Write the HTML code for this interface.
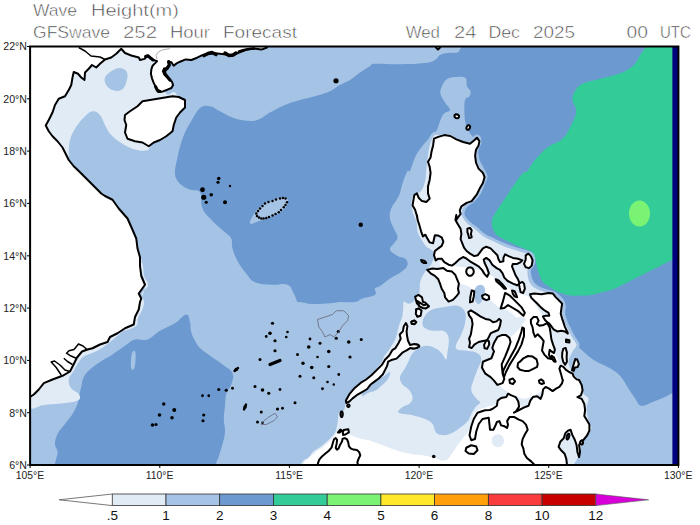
<!DOCTYPE html><html><head><meta charset="utf-8"><style>html,body{margin:0;padding:0;background:#fff}body{width:700px;height:525px;position:relative;overflow:hidden;font-family:"Liberation Sans",sans-serif}text{font-family:"Liberation Sans",sans-serif}</style></head><body><svg width="700" height="525" viewBox="0 0 700 525" style="position:absolute;left:0;top:0">
<defs><clipPath id="c"><rect x="30" y="47" width="648" height="418"/></clipPath></defs>
<g clip-path="url(#c)">
<rect x="30" y="47" width="648" height="418" fill="#a5c3e4"/>
<path d="M461.0,47.0C461.2,43.2 413.2,33.4 461.0,30.0C508.8,26.6 652.2,-42.6 700.0,30.0C747.8,102.6 704.4,320.4 700.0,393.0C695.6,465.6 683.5,392.9 678.0,393.0C672.5,393.1 675.1,392.4 672.5,393.2C669.9,394.1 669.0,395.2 665.0,397.0C661.0,398.8 657.2,400.2 652.5,402.0C647.8,403.8 644.8,406.5 641.2,405.8C637.8,405.0 637.8,402.0 635.0,398.2C632.2,394.5 630.5,391.5 627.5,387.0C624.5,382.5 623.5,379.5 620.0,375.8C616.5,372.0 615.0,371.2 610.0,368.2C605.0,365.2 600.5,364.2 595.0,360.8C589.5,357.2 587.0,355.0 582.5,350.8C578.0,346.5 575.8,344.2 572.5,339.5C569.2,334.8 568.0,332.0 566.2,327.0C564.5,322.0 564.5,319.5 563.8,314.5C563.0,309.5 563.9,305.9 562.5,302.0C561.1,298.1 560.3,297.5 557.0,295.0C553.7,292.5 550.0,291.5 546.0,289.5C542.0,287.5 539.8,287.3 537.0,285.0C534.2,282.7 533.3,281.4 532.0,278.0C530.7,274.6 531.1,272.4 530.5,268.0C529.9,263.6 529.8,259.2 529.0,256.0C528.2,252.8 529.1,253.1 526.6,251.9C524.1,250.7 520.8,251.1 516.3,250.1C511.8,249.1 508.8,248.2 504.3,246.7C499.8,245.2 498.1,244.3 494.0,242.4C489.9,240.5 487.5,239.7 483.7,237.3C479.9,234.9 478.5,233.1 475.1,230.4C471.7,227.7 469.3,226.0 466.6,223.6C463.9,221.2 460.7,223.1 461.4,218.4C462.1,213.7 466.3,207.7 470.0,200.0C473.7,192.3 478.4,188.0 480.0,180.0C481.6,172.0 478.8,167.0 478.0,160.0C477.2,153.0 476.2,149.4 476.0,145.0C475.8,140.6 477.4,139.5 477.0,138.0C476.6,136.5 475.4,138.8 473.8,137.5C472.1,136.2 470.4,134.2 468.8,131.2C467.1,128.2 466.4,126.2 465.5,122.5C464.6,118.8 464.6,117.0 464.5,112.5C464.4,108.0 464.0,103.2 465.0,100.0C466.0,96.8 468.4,98.0 469.5,96.2C470.6,94.5 471.0,93.2 470.5,91.2C470.0,89.2 468.0,88.9 467.0,86.2C466.0,83.6 467.4,79.8 465.5,78.0C463.6,76.2 461.1,76.8 457.5,77.0C453.9,77.2 450.6,76.9 447.5,78.8C444.4,80.6 443.4,83.2 442.0,86.2C440.6,89.2 439.9,90.5 440.5,93.8C441.1,97.0 443.1,99.2 445.0,102.5C446.9,105.8 450.2,107.8 450.0,110.0C449.8,112.2 445.9,111.2 443.8,113.8C441.6,116.2 441.0,119.0 439.5,122.5C438.0,126.0 438.4,128.0 436.2,131.2C434.1,134.5 431.8,135.5 428.8,138.8C425.8,142.0 424.0,143.8 421.2,147.5C418.5,151.2 417.2,152.8 415.0,157.5C412.8,162.2 411.5,168.3 410.0,171.0C408.5,173.7 409.0,168.5 407.5,171.0C406.0,173.5 404.2,178.5 402.5,183.5C400.8,188.5 401.0,191.0 398.8,196.0C396.5,201.0 393.0,204.0 391.2,208.5C389.5,213.0 389.5,214.5 390.0,218.5C390.5,222.5 392.2,224.8 393.8,228.5C395.2,232.2 397.5,234.2 397.5,237.2C397.5,240.2 395.2,241.0 393.8,243.5C392.2,246.0 389.2,247.2 390.0,249.8C390.8,252.2 394.5,254.2 397.5,256.0C400.5,257.8 403.0,256.8 405.0,258.5C407.0,260.2 408.0,262.2 407.5,264.8C407.0,267.2 406.0,268.2 402.5,271.0C399.0,273.8 394.5,275.5 390.0,278.5C385.5,281.5 383.0,284.0 380.0,286.0C377.0,288.0 376.0,286.8 375.0,288.5C374.0,290.2 377.5,292.8 375.0,294.8C372.5,296.8 366.5,297.1 362.5,298.5C358.5,299.9 359.5,301.3 355.0,302.0C350.5,302.7 345.0,301.8 340.0,302.0C335.0,302.2 335.5,302.9 330.0,303.2C324.5,303.6 318.5,304.2 312.5,304.0C306.5,303.8 303.0,302.4 300.0,302.0C297.0,301.6 298.8,303.7 297.5,302.0C296.2,300.3 295.8,296.9 293.8,293.5C291.8,290.1 291.8,286.5 287.5,284.8C283.2,283.0 279.0,285.2 272.5,284.8C266.0,284.2 260.2,284.5 255.0,282.2C249.8,280.0 249.8,277.8 246.2,273.5C242.8,269.2 240.2,266.0 237.5,261.0C234.8,256.0 233.8,253.0 232.5,248.5C231.2,244.0 232.8,241.8 231.2,238.5C229.8,235.2 228.8,235.8 225.0,232.2C221.2,228.8 217.0,225.8 212.5,221.0C208.0,216.2 205.0,214.2 202.5,208.5C200.0,202.8 202.5,196.0 200.0,192.2C197.5,188.5 193.8,191.2 190.0,189.8C186.2,188.2 184.0,187.0 181.2,184.8C178.5,182.5 177.5,181.2 176.2,178.5C175.0,175.8 174.8,175.2 175.0,171.0C175.2,166.8 176.4,162.7 177.5,157.5C178.6,152.3 179.0,150.0 180.5,145.0C182.0,140.0 182.8,137.2 185.0,132.5C187.2,127.8 188.2,126.2 191.2,121.2C194.2,116.3 196.2,111.0 200.0,108.0C203.8,105.0 206.0,105.6 210.0,106.2C214.0,106.9 215.5,109.0 220.0,111.2C224.5,113.5 227.5,115.7 232.5,117.5C237.5,119.3 240.0,120.0 245.0,120.5C250.0,121.0 252.5,121.6 257.5,120.0C262.5,118.4 264.5,115.5 270.0,112.5C275.5,109.5 279.0,107.5 285.0,105.0C291.0,102.5 294.0,101.8 300.0,100.0C306.0,98.2 309.0,98.0 315.0,96.2C321.0,94.5 325.0,93.5 330.0,91.2C335.0,89.0 336.0,87.2 340.0,85.0C344.0,82.8 346.0,82.5 350.0,80.0C354.0,77.5 356.0,75.2 360.0,72.5C364.0,69.8 367.0,68.0 370.0,66.2C373.0,64.5 369.0,64.2 375.0,63.8C381.0,63.4 390.0,64.4 400.0,64.2C410.0,64.1 418.0,63.9 425.0,63.0C432.0,62.1 432.0,61.6 435.0,60.0C438.0,58.4 437.5,56.4 440.0,55.0C442.5,53.6 444.0,53.5 447.5,53.0C451.0,52.5 455.0,53.4 457.5,52.5C460.0,51.6 459.3,49.9 460.0,48.8C460.7,47.6 460.8,50.8 461.0,47.0Z" fill="#6b99d0"/>
<path d="M186.2,314.5C183.2,314.8 180.2,320.0 175.0,323.2C169.8,326.5 165.5,327.5 160.0,330.8C154.5,334.0 152.5,337.8 147.5,339.5C142.5,341.2 139.5,338.2 135.0,339.5C130.5,340.8 129.5,342.8 125.0,345.8C120.5,348.8 117.5,351.2 112.5,354.5C107.5,357.8 104.5,359.0 100.0,362.0C95.5,365.0 93.2,366.5 90.0,369.5C86.8,372.5 85.5,373.5 83.8,377.0C82.0,380.5 82.2,383.0 81.2,387.0C80.2,391.0 79.5,393.6 78.8,397.0C78.0,400.4 78.8,400.6 77.5,404.0C76.2,407.4 75.0,410.0 72.5,414.0C70.0,418.0 68.0,420.0 65.0,424.0C62.0,428.0 59.5,430.0 57.5,434.0C55.5,438.0 55.0,440.5 55.0,444.0C55.0,447.5 57.2,448.5 57.5,451.5C57.8,454.5 56.8,456.3 56.2,459.0C55.8,461.7 55.2,460.8 55.0,465.0C54.8,469.2 22.8,477.0 55.0,480.0C87.2,483.0 183.8,483.0 216.0,480.0C248.2,477.0 215.4,469.7 216.0,465.0C216.6,460.3 217.4,460.7 218.8,456.5C220.1,452.3 221.2,449.0 222.5,444.0C223.8,439.0 224.8,436.5 225.0,431.5C225.2,426.5 223.8,424.0 223.8,419.0C223.8,414.0 224.5,411.5 225.0,406.5C225.5,401.5 225.0,398.4 226.2,394.0C227.5,389.6 230.0,388.6 231.2,384.5C232.5,380.4 234.2,377.2 232.5,373.2C230.8,369.2 227.0,368.0 222.5,364.5C218.0,361.0 214.5,359.1 210.0,355.8C205.5,352.4 203.0,351.0 200.0,348.0C197.0,345.0 196.8,343.9 195.0,340.8C193.2,337.6 192.2,335.8 191.2,332.0C190.2,328.2 191.0,325.5 190.0,322.0C189.0,318.5 189.2,314.2 186.2,314.5Z" fill="#6b99d0"/>
<path d="M250.0,223.5C249.2,222.0 252.0,217.3 254.0,214.0C256.0,210.7 257.6,209.3 260.0,207.0C262.4,204.7 263.4,203.9 266.0,202.5C268.6,201.1 270.2,200.9 273.0,200.0C275.8,199.1 277.4,198.5 280.0,198.0C282.6,197.5 284.4,196.7 286.0,197.5C287.6,198.3 288.2,199.9 288.0,202.0C287.8,204.1 286.8,205.8 285.0,208.0C283.2,210.2 281.6,211.3 279.0,213.0C276.4,214.7 274.8,215.3 272.0,216.5C269.2,217.7 267.8,218.0 265.0,219.0C262.2,220.0 261.0,220.6 258.0,221.5C255.0,222.4 250.8,225.0 250.0,223.5Z" fill="#a5c3e4"/>
<path d="M132.0,353.0C132.9,350.1 135.0,350.1 135.5,353.0C136.0,355.9 135.4,364.6 134.5,367.5C133.6,370.4 131.5,370.4 131.0,367.5C130.5,364.6 131.1,355.9 132.0,353.0Z" fill="#a5c3e4"/>
<path d="M68.0,157.5C69.8,157.5 68.3,153.5 68.8,150.0C69.2,146.5 68.8,144.2 70.0,140.0C71.2,135.8 72.2,133.2 75.0,128.8C77.8,124.2 80.2,121.0 83.8,117.5C87.2,114.0 89.2,111.8 92.5,111.2C95.8,110.8 97.5,112.2 100.0,115.0C102.5,117.8 102.8,121.0 105.0,125.0C107.2,129.0 107.8,131.2 111.2,135.0C114.8,138.8 117.8,140.8 122.5,143.8C127.2,146.7 130.5,148.2 135.0,149.5C139.5,150.8 142.0,150.9 145.0,150.5C148.0,150.1 147.0,151.6 150.0,147.5C153.0,143.4 154.6,136.9 160.0,130.0C165.4,123.1 173.0,118.0 177.0,113.0C181.0,108.0 179.8,108.2 180.0,105.0C180.2,101.8 179.2,99.6 178.0,97.0C176.8,94.4 176.6,93.0 174.0,92.0C171.4,91.0 168.8,98.4 165.0,92.0C161.2,85.6 167.0,68.4 155.0,60.0C143.0,51.6 124.0,44.0 105.0,50.0C86.0,56.0 73.0,75.0 60.0,90.0C47.0,105.0 40.0,113.0 40.0,125.0C40.0,137.0 54.4,143.5 60.0,150.0C65.6,156.5 66.2,157.5 68.0,157.5Z" fill="#e1ebf6"/>
<path d="M105.0,77.5C106.0,74.8 108.2,73.2 111.2,71.2C114.2,69.3 116.8,67.8 120.0,68.0C123.2,68.2 125.8,69.6 127.0,72.5C128.2,75.4 127.4,79.0 126.2,82.5C125.1,86.0 124.0,88.5 121.2,90.0C118.5,91.5 115.5,91.0 112.5,90.0C109.5,89.0 107.8,87.5 106.2,85.0C104.8,82.5 104.0,80.2 105.0,77.5Z" fill="#a5c3e4"/>
<path d="M124.0,330.0C119.0,334.8 115.3,337.9 110.0,342.0C104.7,346.1 102.5,348.0 97.5,350.8C92.5,353.5 88.8,353.5 85.0,355.8C81.2,358.0 81.0,359.0 78.8,362.0C76.5,365.0 75.8,367.2 73.8,370.8C71.8,374.2 69.2,376.0 68.8,379.5C68.2,383.0 69.2,385.4 71.2,388.2C73.2,391.1 77.2,391.6 78.8,394.0C80.2,396.4 81.0,398.2 78.8,400.0C76.5,401.8 72.2,401.9 67.5,402.8C62.8,403.6 60.0,403.5 55.0,404.0C50.0,404.5 47.5,404.5 42.5,405.2C37.5,406.0 32.5,410.8 30.0,407.8C27.5,404.7 16.0,404.6 30.0,390.0C44.0,375.4 79.0,349.4 100.0,335.0C121.0,320.6 130.2,319.0 135.0,318.0C139.8,317.0 129.0,325.2 124.0,330.0Z" fill="#e1ebf6"/>
<path d="M140.0,257.0C140.6,257.0 142.2,262.2 143.0,266.0C143.8,269.8 143.0,272.2 144.0,276.0C145.0,279.8 148.4,281.4 148.0,285.0C147.6,288.6 142.8,290.6 142.0,294.0C141.2,297.4 144.0,298.8 144.0,302.0C144.0,305.2 143.2,306.8 142.0,310.0C140.8,313.2 139.2,314.8 138.0,318.0C136.8,321.2 138.8,323.6 136.0,326.0C133.2,328.4 124.2,331.6 124.0,330.0C123.8,328.4 131.8,323.6 135.0,318.0C138.2,312.4 138.0,308.6 140.0,302.0C142.0,295.4 145.0,292.2 145.0,285.0C145.0,277.8 141.0,271.6 140.0,266.0C139.0,260.4 139.4,257.0 140.0,257.0Z" fill="#e1ebf6"/>
<path d="M425.0,167.5C424.4,172.5 424.8,175.5 423.8,180.0C422.8,184.5 422.2,187.2 420.0,190.0C417.8,192.8 414.5,191.2 412.5,193.8C410.5,196.2 410.2,198.8 410.0,202.5C409.8,206.2 410.2,208.5 411.2,212.5C412.2,216.5 414.0,218.5 415.0,222.5C416.0,226.5 415.2,229.0 416.2,232.5C417.2,236.0 418.2,237.0 420.0,240.0C421.8,243.0 422.5,244.8 425.0,247.5C427.5,250.2 431.5,250.3 432.5,253.5C433.5,256.7 431.8,260.0 430.0,263.5C428.2,267.0 426.0,267.5 423.8,271.0C421.5,274.5 420.0,276.5 418.8,281.0C417.5,285.5 419.2,289.3 417.5,293.5C415.8,297.7 412.9,300.7 410.0,302.0C407.1,303.3 404.5,298.7 402.8,300.0C401.1,301.3 402.1,305.1 401.7,308.4C401.3,311.7 401.5,313.4 400.7,316.7C399.9,320.0 398.6,321.7 397.6,325.1C396.6,328.5 396.3,330.6 395.5,333.5C394.7,336.4 394.5,337.5 393.4,339.8C392.3,342.1 391.5,342.9 390.2,345.0C388.9,347.1 388.6,348.1 387.1,350.2C385.6,352.3 384.2,353.4 382.9,355.5C381.6,357.6 381.8,358.8 380.8,360.7C379.8,362.6 379.2,363.0 377.7,364.9C376.2,366.8 375.2,368.2 373.5,370.1C371.8,372.0 371.0,372.7 369.3,374.3C367.6,375.9 367.0,376.5 365.1,377.9C363.2,379.3 362.0,379.7 359.9,381.2C357.8,382.7 356.6,383.6 354.7,385.4C352.8,387.2 352.2,387.8 350.5,390.0C348.8,392.2 347.6,393.8 346.3,396.3C345.0,398.8 345.0,399.9 344.2,402.6C343.4,405.3 343.8,408.0 342.5,409.9C341.2,411.8 338.8,409.6 337.5,412.0C336.2,414.4 337.0,418.1 336.2,422.0C335.5,425.9 335.5,428.1 333.8,431.5C332.0,434.9 330.2,436.2 327.5,439.0C324.8,441.8 323.0,443.0 320.0,445.2C317.0,447.5 315.0,448.0 312.5,450.2C310.0,452.5 309.8,454.2 307.5,456.5C305.2,458.8 302.8,456.8 301.2,461.5C299.8,466.2 248.2,476.3 300.0,480.0C351.8,483.7 505.0,483.0 560.0,480.0C615.0,477.0 571.0,469.8 575.0,465.0C579.0,460.2 578.4,460.0 580.0,456.0C581.6,452.0 581.4,448.8 583.0,445.0C584.6,441.2 586.0,440.4 588.0,437.0C590.0,433.6 592.6,431.4 593.0,428.0C593.4,424.6 591.0,424.0 590.0,420.0C589.0,416.0 588.0,412.4 588.0,408.0C588.0,403.6 590.8,401.2 590.0,398.0C589.2,394.8 586.0,395.6 584.0,392.0C582.0,388.4 582.0,384.0 580.0,380.0C578.0,376.0 576.0,375.6 574.0,372.0C572.0,368.4 570.0,366.0 570.0,362.0C570.0,358.0 572.4,355.4 574.0,352.0C575.6,348.6 578.2,348.2 578.0,345.0C577.8,341.8 574.6,339.0 573.0,336.0C571.4,333.0 571.2,332.4 570.0,330.0C568.8,327.6 568.0,326.3 567.0,324.0C566.0,321.7 565.7,320.7 565.0,318.5C564.3,316.3 563.7,315.3 563.6,313.0C563.5,310.7 564.4,309.3 564.3,307.0C564.2,304.7 564.1,303.6 563.0,301.5C561.9,299.4 560.3,298.1 558.6,296.4C556.9,294.7 556.3,294.0 554.3,293.0C552.3,292.0 551.2,292.1 548.6,291.4C546.0,290.7 544.3,290.4 541.4,289.3C538.5,288.2 536.4,287.3 534.3,285.7C532.2,284.1 531.7,283.4 530.7,281.4C529.7,279.4 529.6,278.0 529.3,275.7C529.0,273.4 528.5,271.9 529.0,270.0C529.5,268.1 531.0,268.0 532.0,266.0C533.0,264.0 534.0,262.4 534.0,260.0C534.0,257.6 534.8,256.0 532.0,254.0C529.2,252.0 525.4,251.8 520.0,250.0C514.6,248.2 510.2,247.0 505.0,245.0C499.8,243.0 498.2,242.0 494.0,240.0C489.8,238.0 487.6,237.4 484.0,235.0C480.4,232.6 479.2,230.6 476.0,228.0C472.8,225.4 470.6,224.8 468.0,222.0C465.4,219.2 463.4,217.2 463.0,214.0C462.6,210.8 463.8,208.8 466.0,206.0C468.2,203.2 471.2,202.8 474.0,200.0C476.8,197.2 478.0,195.6 480.0,192.0C482.0,188.4 482.8,185.2 484.0,182.0C485.2,178.8 486.4,178.8 486.0,176.0C485.6,173.2 483.6,171.2 482.0,168.0C480.4,164.8 479.0,163.6 478.0,160.0C477.0,156.4 476.6,153.6 477.0,150.0C477.4,146.4 480.0,144.8 480.0,142.0C480.0,139.2 479.0,136.2 477.0,136.0C475.0,135.8 473.4,140.4 470.0,141.0C466.6,141.6 464.0,140.6 460.0,139.0C456.0,137.4 454.0,134.1 450.0,133.0C446.0,131.9 443.3,133.3 440.0,133.5C436.7,133.7 435.7,132.2 433.5,134.0C431.3,135.8 430.4,138.3 429.0,142.5C427.6,146.7 427.3,150.0 426.5,155.0C425.7,160.0 425.6,162.5 425.0,167.5Z" fill="#e1ebf6" stroke="#a5c3e4" stroke-width="3"/>
<path d="M425.0,315.8C427.0,312.8 428.5,311.2 432.5,309.5C436.5,307.8 440.0,307.8 445.0,307.0C450.0,306.2 453.5,304.8 457.5,305.8C461.5,306.8 463.5,308.5 465.0,312.0C466.5,315.5 465.8,318.8 465.0,323.2C464.2,327.8 463.0,330.2 461.2,334.5C459.5,338.8 457.0,341.5 456.2,344.5C455.5,347.5 455.2,348.2 457.5,349.5C459.8,350.8 463.5,350.0 467.5,350.8C471.5,351.5 474.8,351.5 477.5,353.2C480.2,355.0 481.2,356.2 481.2,359.5C481.2,362.8 479.0,365.5 477.5,369.5C476.0,373.5 475.0,375.5 473.8,379.5C472.5,383.5 471.0,386.0 471.2,389.5C471.5,393.0 473.2,394.5 475.0,397.0C476.8,399.5 479.2,400.6 480.0,402.0C480.8,403.4 479.8,402.9 478.8,404.0C477.8,405.1 476.5,405.8 475.0,407.8C473.5,409.8 472.8,411.2 471.2,414.0C469.8,416.8 469.8,418.8 467.5,421.5C465.2,424.2 463.0,425.5 460.0,427.8C457.0,430.0 455.8,431.2 452.5,432.8C449.2,434.2 447.0,435.2 443.8,435.2C440.5,435.2 438.5,435.0 436.2,432.8C434.0,430.5 434.8,426.8 432.5,424.0C430.2,421.2 429.0,420.8 425.0,419.0C421.0,417.2 417.8,416.5 412.5,415.2C407.2,414.0 400.8,414.4 398.8,412.8C396.8,411.1 400.2,408.9 402.5,407.0C404.8,405.1 408.0,405.2 410.0,403.2C412.0,401.2 412.8,399.8 412.5,397.0C412.2,394.2 410.8,392.0 408.8,389.5C406.8,387.0 404.2,387.0 402.5,384.5C400.8,382.0 399.5,380.2 400.0,377.0C400.5,373.8 403.2,371.5 405.0,368.2C406.8,365.0 407.2,363.8 408.8,360.8C410.2,357.8 410.5,355.8 412.5,353.2C414.5,350.8 415.8,349.8 418.8,348.2C421.8,346.8 423.8,345.5 427.5,345.8C431.2,346.0 434.5,347.8 437.5,349.5C440.5,351.2 440.8,352.5 442.5,354.5C444.2,356.5 445.2,360.0 446.2,359.5C447.2,359.0 447.0,355.5 447.5,352.0C448.0,348.5 448.8,345.5 448.8,342.0C448.8,338.5 448.8,336.8 447.5,334.5C446.2,332.2 445.0,331.5 442.5,330.8C440.0,330.0 438.0,331.0 435.0,330.8C432.0,330.5 430.0,330.8 427.5,329.5C425.0,328.2 423.0,327.2 422.5,324.5C422.0,321.8 423.0,318.8 425.0,315.8Z" fill="#a5c3e4"/>
<path d="M375.0,379.5C378.3,377.3 379.5,378.5 382.5,377.0C385.5,375.5 389.0,371.5 390.0,372.0C391.0,372.5 389.5,376.5 387.5,379.5C385.5,382.5 382.5,384.8 380.0,387.0C377.5,389.2 377.4,389.6 375.0,390.8C372.6,391.9 370.6,391.9 368.0,393.0C365.4,394.1 362.4,397.0 362.0,396.0C361.6,395.0 363.4,391.3 366.0,388.0C368.6,384.7 371.7,381.7 375.0,379.5Z" fill="#a5c3e4"/>
<path d="M303.0,480.0C254.6,477.0 301.8,469.4 303.0,465.0C304.2,460.6 306.4,460.6 309.0,458.0C311.6,455.4 313.2,454.2 316.0,452.0C318.8,449.8 320.2,449.2 323.0,447.0C325.8,444.8 327.4,443.6 330.0,441.0C332.6,438.4 333.9,436.3 336.0,434.0C338.1,431.7 337.7,429.7 340.3,429.7C342.9,429.7 345.1,432.3 348.9,434.0C352.7,435.7 354.7,436.9 359.1,438.3C363.5,439.7 365.9,439.4 371.1,440.9C376.3,442.4 379.4,444.0 384.9,446.0C390.4,448.0 393.1,449.4 398.6,451.1C404.1,452.8 407.2,453.4 412.3,454.3C417.4,455.2 419.6,454.8 424.0,455.5C428.4,456.2 430.0,456.9 434.3,457.9C438.6,458.9 442.0,461.5 445.7,460.3C449.4,459.1 450.3,455.4 452.9,452.1C455.5,448.8 456.3,446.7 458.6,443.6C460.9,440.5 462.3,439.0 464.3,436.4C466.3,433.8 467.2,433.6 468.6,430.7C470.0,427.8 470.3,425.5 471.4,422.1C472.5,418.7 472.6,416.2 474.3,413.6C476.0,411.0 477.4,410.6 480.0,409.3C482.6,408.0 483.7,408.2 487.1,407.1C490.5,406.0 492.4,405.4 497.0,404.0C501.6,402.6 503.4,396.8 510.0,400.0C516.6,403.2 523.0,404.0 530.0,420.0C537.0,436.0 590.4,468.0 545.0,480.0C499.6,492.0 351.4,483.0 303.0,480.0Z" fill="#ffffff"/>
<path d="M504.1,440.7C504.1,442.2 503.8,443.2 502.9,444.5C502.1,445.7 501.2,446.3 499.8,446.8C498.4,447.3 497.4,447.3 496.0,446.8C494.6,446.3 493.7,445.7 492.9,444.5C492.0,443.2 491.7,442.2 491.7,440.7C491.7,439.2 492.0,438.2 492.9,436.9C493.7,435.7 494.6,435.1 496.0,434.6C497.4,434.1 498.4,434.1 499.8,434.6C501.2,435.1 502.1,435.7 502.9,436.9C503.8,438.2 504.1,439.2 504.1,440.7Z" fill="#e1ebf6"/>
<path d="M440.0,262.0C442.0,260.2 449.0,264.8 455.0,266.0C461.0,267.2 464.0,266.8 470.0,268.0C476.0,269.2 479.0,269.2 485.0,272.0C491.0,274.8 494.0,278.0 500.0,282.0C506.0,286.0 509.0,288.8 515.0,292.0C521.0,295.2 525.0,294.0 530.0,298.0C535.0,302.0 536.4,307.2 540.0,312.0C543.6,316.8 545.6,315.4 548.0,322.0C550.4,328.6 549.6,336.2 552.0,345.0C554.4,353.8 558.4,357.8 560.0,366.0C561.6,374.2 563.0,381.2 560.0,386.0C557.0,390.8 551.0,387.8 545.0,390.0C539.0,392.2 535.0,395.4 530.0,397.0C525.0,398.6 524.4,399.0 520.0,398.0C515.6,397.0 512.0,394.6 508.0,392.0C504.0,389.4 502.2,389.0 500.0,385.0C497.8,381.0 497.0,377.0 497.0,372.0C497.0,367.0 498.4,365.4 500.0,360.0C501.6,354.6 502.6,350.6 505.0,345.0C507.4,339.4 509.4,336.6 512.0,332.0C514.6,327.4 518.4,326.0 518.0,322.0C517.6,318.0 513.6,314.8 510.0,312.0C506.4,309.2 504.0,310.4 500.0,308.0C496.0,305.6 494.4,303.2 490.0,300.0C485.6,296.8 483.0,295.0 478.0,292.0C473.0,289.0 470.2,287.0 465.0,285.0C459.8,283.0 456.0,284.0 452.0,282.0C448.0,280.0 447.4,279.0 445.0,275.0C442.6,271.0 438.0,263.8 440.0,262.0Z" fill="#ffffff"/>
<path d="M505.3,324.0C507.3,322.1 510.4,320.0 513.3,318.7C516.2,317.4 517.6,317.3 520.0,317.3C522.4,317.3 524.8,317.4 525.3,318.7C525.8,320.0 524.0,321.9 522.7,324.0C521.4,326.1 520.6,327.2 518.7,329.3C516.8,331.4 515.4,333.1 513.3,334.7C511.2,336.3 509.9,337.6 508.0,337.3C506.1,337.0 504.9,335.2 504.0,333.3C503.1,331.4 503.0,329.9 503.3,328.0C503.6,326.1 503.3,325.9 505.3,324.0Z" fill="#e1ebf6"/>
<path d="M476.0,287.0C477.5,285.4 480.2,284.4 482.0,285.0C483.8,285.6 484.8,287.4 485.0,290.0C485.2,292.6 484.2,295.2 483.0,298.0C481.8,300.8 480.6,303.6 479.0,304.0C477.4,304.4 475.9,302.2 475.0,300.0C474.1,297.8 474.3,295.6 474.5,293.0C474.7,290.4 474.5,288.6 476.0,287.0Z" fill="#a5c3e4"/>
<path d="M645.0,47.0C643.8,52.0 642.0,51.6 640.0,55.0C638.0,58.4 638.0,60.5 635.0,63.8C632.0,67.0 630.0,68.8 625.0,71.2C620.0,73.8 615.5,74.6 610.0,76.2C604.5,77.9 603.0,78.0 597.5,79.5C592.0,81.0 587.0,81.4 582.5,83.8C578.0,86.1 577.0,88.0 575.0,91.2C573.0,94.5 572.2,96.0 572.5,100.0C572.8,104.0 576.5,106.2 576.2,111.2C576.0,116.2 574.0,119.5 571.2,125.0C568.5,130.5 567.2,134.2 562.5,138.8C557.8,143.2 553.0,143.2 547.5,147.5C542.0,151.8 539.0,155.3 535.0,160.0C531.0,164.7 529.9,168.4 527.5,171.0C525.1,173.6 525.3,170.8 523.1,172.9C520.9,175.0 519.0,177.6 516.3,181.4C513.6,185.2 512.1,187.6 509.4,191.7C506.7,195.8 505.3,197.9 502.6,202.0C499.9,206.1 497.8,208.5 495.7,212.3C493.6,216.1 492.4,217.3 492.0,221.0C491.6,224.7 492.1,227.7 493.8,231.0C495.4,234.3 497.4,235.4 500.0,237.3C502.6,239.2 503.8,239.2 506.9,240.7C510.0,242.2 511.6,243.3 515.4,245.0C519.2,246.7 522.3,247.8 525.7,249.3C529.1,250.8 530.7,251.0 532.6,252.7C534.5,254.4 534.2,255.2 535.1,257.9C536.0,260.6 536.0,263.0 536.9,266.4C537.8,269.8 538.2,271.9 539.4,275.0C540.6,278.1 540.8,279.5 542.9,281.9C545.0,284.3 546.6,285.0 549.7,287.0C552.8,289.0 554.5,290.5 558.3,292.1C562.1,293.7 564.1,294.5 568.6,295.2C573.1,295.9 575.8,295.7 580.6,295.6C585.4,295.5 588.1,295.4 592.6,294.7C597.1,294.0 598.4,293.3 602.9,292.1C607.4,290.9 609.6,290.7 615.0,288.5C620.4,286.3 624.0,284.0 630.0,281.0C636.0,278.0 639.0,276.5 645.0,273.5C651.0,270.5 654.5,268.8 660.0,266.0C665.5,263.2 668.9,261.6 672.5,259.8C676.1,257.9 672.5,258.9 678.0,257.0C683.5,255.1 695.6,295.4 700.0,250.0C704.4,204.6 710.8,74.0 700.0,30.0C689.2,-14.0 657.0,26.6 646.0,30.0C635.0,33.4 646.2,42.0 645.0,47.0Z" fill="#33cc99"/>
<path d="M650.0,213.5C650.0,215.5 649.8,216.6 649.2,218.5C648.6,220.3 648.1,221.3 646.9,222.7C645.8,224.1 645.0,224.7 643.5,225.5C642.0,226.3 641.1,226.5 639.5,226.5C637.9,226.5 637.0,226.3 635.5,225.5C634.0,224.7 633.2,224.1 632.1,222.7C630.9,221.3 630.4,220.3 629.8,218.5C629.2,216.6 629.0,215.5 629.0,213.5C629.0,211.5 629.2,210.4 629.8,208.5C630.4,206.7 630.9,205.7 632.1,204.3C633.2,202.9 634.0,202.3 635.5,201.5C637.0,200.7 637.9,200.5 639.5,200.5C641.1,200.5 642.0,200.7 643.5,201.5C645.0,202.3 645.8,202.9 646.9,204.3C648.1,205.7 648.6,206.7 649.2,208.5C649.8,210.4 650.0,211.5 650.0,213.5Z" fill="#7af374"/>
<polygon points="267,47.5 261.4,49.6 254,48.6 246.6,49.6 237.3,53.3 231.7,56.1 224.3,54.2 215,53.3 208.6,53.7 202.9,54.9 197.1,57.7 191.4,60 185.7,59.4 180,61.7 176.6,63.4 173.7,65.7 171.4,62.3 168.6,61.7 169.1,64.6 167.4,68 164,68.6 162.9,71.4 164.6,74.9 166.9,77.1 169.1,79.4 172,81.7 173.1,85.1 171.4,88 167.4,89.7 162.9,91.4 158.3,92 156,87.4 153.7,82.9 152,78.3 150.9,73.7 151.4,69.1 152.6,65.7 154.9,63.4 157.1,61.1 153.7,60 150.3,57.7 148,55.4 144.6,58.9 140,60 138.75,57.5 131.25,55.5 125,53 121.25,48.75 116.25,53.75 111.25,57.5 105,59.5 100,63.75 96.25,67.5 92,65 88.75,68.75 85,72.5 84.5,80 81.25,77.5 78,73.75 73.75,72 72.5,77.5 71.25,85 68.75,90 65,96.25 58.75,98.75 55,105 52.5,112.5 48.75,120 45.75,125.5 48.75,131.25 52.5,136.25 57.5,141.25 62.5,147.5 66.25,155 68.75,160 73.75,166.25 78.75,171 85,177.25 92.5,184.75 101.25,193.5 105,196 112.5,199.75 118.75,208.5 127.5,218.5 132.5,229.75 136.25,238.5 137.5,248.5 140,257.25 140,266 141.25,276 145,284.75 138.75,293.5 141.25,298.5 140,302 138.75,309.5 135,317 133.75,324.5 125,328.25 117.5,333.25 110,337 107.5,342 100,344.5 92.5,348.25 87.5,349.5 82.0,351.5 77.0,357.5 73.8,364.0 70.0,371.5 62.5,375.8 52.5,379.5 43.8,383.2 38.8,389.5 33.8,394.5 30.0,397.0 20,397 20,37 267.5,37" fill="#fff" stroke="#000" stroke-width="2.0" stroke-linejoin="round"/>
<polygon points="125,115 130,111.25 137.5,106.25 142.5,101.25 150,100 157.5,98.75 165,97.5 172.5,96.25 178.75,97 185,100 185,107.5 180,112.5 176.25,117.5 173.75,125 172.5,131.25 166.25,136.25 160,140 153.75,142.5 148.75,146.25 142.5,142.5 135,141.25 127.5,138.75 125,132.5 126.25,125 124.5,120" fill="#fff" stroke="#000" stroke-width="2.0" stroke-linejoin="round"/>
<polygon points="434.0,138.6 438.3,136.9 444.3,135.1 450.3,136.0 456.3,139.4 463.1,142.0 470.0,143.7 474.3,140.3 476.9,137.7 479.4,141.1 478.6,145.4 476.0,149.7 475.1,155.7 476.0,162.6 478.6,168.6 482.9,172.9 484.6,177.1 482.9,183.1 479.4,189.1 476.9,194.3 474.3,197.7 471.7,201.1 466.6,202.9 461.4,206.3 459.7,210.6 460.6,214.0 458.0,217.4 456.3,220.0 456.3,215.0 455.4,220.1 458.0,224.4 460.6,228.7 461.4,233.9 460.6,239.0 462.3,243.3 464.0,247.6 466.6,251.0 470.0,253.6 474.3,256.1 477.7,255.3 480.3,251.9 482.9,248.4 486.3,246.7 490.6,248.4 494.0,251.9 497.4,255.3 498.3,258.7 500.0,262.1 503.4,261.3 503.4,257.9 505.1,254.4 508.6,256.1 512.9,257.9 518.0,258.7 522.3,260.4 520.6,262.1 517.1,263.9 512.9,263.9 512.0,266.4 513.7,270.7 515.4,275.0 518.0,279.3 519.7,283.6 517.1,285.3 512.9,283.6 507.7,281.0 504.3,277.6 502.6,273.3 500.0,269.9 496.6,268.1 492.3,264.7 489.7,260.4 486.3,257.9 483.7,259.6 484.6,263.0 487.1,268.1 488.9,273.3 487.1,276.7 484.6,274.1 482.0,269.9 478.6,266.4 474.3,263.9 470.0,261.3 466.6,258.7 463.1,257.0 458.9,259.6 455.4,263.0 452.0,265.6 448.6,264.7 444.3,262.1 441.7,258.7 438.3,258.7 435.7,260.4 434.0,255.3 434.9,251.0 438.3,248.4 441.7,245.9 443.4,241.6 441.7,237.3 438.3,235.6 434.9,235.2 434.0,239.0 433.1,243.3 429.7,242.4 427.1,238.1 425.4,234.7 422.9,236.4 421.1,231.3 419.4,225.3 417.7,220.1 416.9,215.0 417.7,220.0 416.9,215.7 415.1,209.7 412.6,205.4 413.4,200.3 414.3,195.1 416.9,193.4 418.6,197.7 422.0,201.1 426.3,202.0 429.7,198.6 428.0,193.4 428.0,186.6 429.7,179.7 430.6,172.9 429.7,166.9 428.0,161.7 430.6,157.4 431.4,152.3 433.1,145.4" fill="#fff" stroke="#000" stroke-width="2.0" stroke-linejoin="round"/>
<polygon points="427.1,269.9 432.3,268.5 437.4,269.0 443.4,268.1 446.9,270.7 452.0,271.6 455.4,275.0 457.1,279.3 458.9,283.6 458.0,288.7 458.9,293.0 456.3,296.4 452.9,299.9 448.6,301.6 445.1,297.3 444.3,293.0 441.7,288.7 440.0,283.6 438.3,279.3 434.9,275.9 430.6,273.3" fill="#fff" stroke="#000" stroke-width="2.0" stroke-linejoin="round"/>
<polygon points="421.1,259.9 424.6,260.9 426.3,263.0 423.7,263.0 421.7,261.6" fill="#fff" stroke="#000" stroke-width="2.0" stroke-linejoin="round"/>
<polygon points="473.8,271.6 473.4,273.4 472.3,274.9 470.8,275.8 469.2,275.8 467.7,274.9 466.6,273.4 466.2,271.6 466.6,269.7 467.7,268.2 469.2,267.4 470.8,267.4 472.3,268.2 473.4,269.7" fill="#fff" stroke="#000" stroke-width="2.0" stroke-linejoin="round"/>
<polygon points="467.4,228.7 470.0,227.9 471.7,230.4 470.9,233.9 471.7,237.3 469.1,238.1 468.3,234.7 467.4,232.1" fill="#fff" stroke="#000" stroke-width="2.0" stroke-linejoin="round"/>
<polygon points="495.7,279.3 498.3,280.1 502.6,284.4 506.0,288.7 504.3,288.7 500.0,284.4 496.6,281.5" fill="#fff" stroke="#000" stroke-width="2.0" stroke-linejoin="round"/>
<polygon points="512.0,290.4 514.6,291.3 516.3,294.7 517.1,297.3 514.6,296.4 512.9,293.9" fill="#fff" stroke="#000" stroke-width="2.0" stroke-linejoin="round"/>
<polygon points="518.9,283.6 522.3,281.9 524.0,283.6 524.9,288.7 523.1,293.0 520.6,292.1 519.7,287.9" fill="#fff" stroke="#000" stroke-width="2.0" stroke-linejoin="round"/>
<polygon points="525.7,255.3 528.3,253.6 530.9,256.1 532.6,260.4 531.7,265.6 529.1,268.1 525.7,267.3 524.0,263.9 525.7,259.6" fill="#fff" stroke="#000" stroke-width="2.0" stroke-linejoin="round"/>
<polygon points="471.7,290.4 474.3,291.3 473.8,296.4 472.6,301.6 470.0,302.4 470.3,297.3" fill="#fff" stroke="#000" stroke-width="2.0" stroke-linejoin="round"/>
<polygon points="482.0,295.6 485.4,294.2 488.9,295.9 489.2,299.0 486.3,300.2 482.9,298.5" fill="#fff" stroke="#000" stroke-width="2.0" stroke-linejoin="round"/>
<polygon points="500.6,308.6 502.9,301.4 505.1,292.9 510.0,295.7 515.7,301.4 521.4,307.1 524.9,312.9 523.4,315.7 518.6,311.4 512.9,308.0 508.0,305.1 504.3,308.0" fill="#fff" stroke="#000" stroke-width="2.0" stroke-linejoin="round"/>
<polygon points="530.0,294.3 534.3,293.6 541.4,294.3 548.6,292.9 552.9,293.6 555.7,297.1 559.3,300.7 562.1,303.6 561.4,308.6 560.7,313.6 562.1,318.6 563.6,322.9 565.0,327.1 567.1,331.4 567.9,333.6 565.0,331.4 561.4,330.7 557.1,331.4 553.6,329.3 551.4,326.4 549.3,323.6 547.1,322.1 545.0,320.0 542.9,316.4 545.7,315.7 549.3,315.7 548.6,312.9 545.0,310.7 541.4,307.9 537.9,304.3 534.3,300.7 531.4,297.9" fill="#fff" stroke="#000" stroke-width="2.0" stroke-linejoin="round"/>
<polygon points="530.9,319.7 533.4,317.1 536.9,317.1 538.6,320.6 536.9,324.0 539.4,325.7 543.7,324.9 547.1,323.1 549.7,327.4 550.6,333.4 551.4,339.4 553.1,344.6 554.9,349.7 554.0,353.1 551.4,351.4 549.7,349.7 548.9,354.9 551.4,359.1 548.0,358.3 544.6,354.9 542.0,350.6 542.9,345.4 543.7,341.1 541.1,337.7 537.7,334.3 535.1,336.9 533.4,332.6 532.6,327.4 530.9,323.1" fill="#fff" stroke="#000" stroke-width="2.0" stroke-linejoin="round"/>
<polygon points="563.4,348.6 565.7,348 566.9,352.6 566.6,357.1 566.9,361.7 565.1,364.6 563.2,361.7 562.1,357.1 562.3,352.6" fill="#fff" stroke="#000" stroke-width="2.0" stroke-linejoin="round"/>
<polygon points="575.4,358.9 577.1,359.4 578.9,364 577.7,366.9 574.9,367.4 573.7,370.9 572,370.3 573.1,366.3 574.3,362.3" fill="#fff" stroke="#000" stroke-width="2.0" stroke-linejoin="round"/>
<polygon points="566.0,339.4 569.4,340.3 569.4,342.5 566.0,342.0" fill="#fff" stroke="#000" stroke-width="2.0" stroke-linejoin="round"/>
<polygon points="551.4,355.7 554.0,357.4 555.7,361.7 554.0,361.4 552.3,359.1" fill="#fff" stroke="#000" stroke-width="2.0" stroke-linejoin="round"/>
<polygon points="518,363 520,361.7 523.4,358.3 528,356 532.6,356.6 536.6,359.4 537.7,364 537.1,366.9 533.7,368.6 529.1,370.9 524.6,370.9 520,369.7 517.5,367" fill="#fff" stroke="#000" stroke-width="2.0" stroke-linejoin="round"/>
<polygon points="522.3,327.4 524.0,328.3 524.0,336.0 521.4,344.6 518.0,351.4 513.7,358.3 509.4,365.1 506.0,372.0 504.3,376.3 502.6,375.4 503.4,370.3 506.9,363.4 511.1,355.7 515.4,348.0 518.9,339.4 521.4,331.7" fill="#fff" stroke="#000" stroke-width="2.0" stroke-linejoin="round"/>
<polygon points="509.4,379.7 512.9,378.5 515.1,381.4 512.9,384.0 509.9,383.1" fill="#fff" stroke="#000" stroke-width="2.0" stroke-linejoin="round"/>
<polygon points="538.9,380.6 541.1,379.4 543.4,381.1 544,383.4 541.7,384 539.4,382.9" fill="#fff" stroke="#000" stroke-width="2.0" stroke-linejoin="round"/>
<polygon points="468.3,312.0 470.9,310.3 475.1,312.9 480.3,316.3 485.4,318.9 489.7,319.7 493.1,322.3 496.6,321.4 499.1,318.9 500.9,320.6 500.0,325.7 498.3,330.0 494.0,331.7 490.6,333.4 488.9,336.9 487.1,340.3 482.9,341.1 478.6,342.0 474.3,344.6 471.7,348.0 469.1,347.1 470.0,342.9 469.1,338.6 470.9,334.3 471.7,329.1 472.6,324.0 471.7,318.9 469.1,315.4" fill="#fff" stroke="#000" stroke-width="2.0" stroke-linejoin="round"/>
<polygon points="486.3,340.3 488.9,341.1 489.2,344.6 487.1,348.9 484.6,348.3 484.1,344.9" fill="#fff" stroke="#000" stroke-width="2.0" stroke-linejoin="round"/>
<polygon points="497.4,336.9 501.7,335.1 506.0,335.1 509.4,337.7 510.6,342.0 508.6,348.0 505.1,356.6 501.7,364.3 502.6,373.7 504.3,378.9 502.6,383.1 497.4,384.9 494.0,380.6 490.6,377.1 485.4,373.7 482.0,367.7 482.9,361.7 487.1,360.0 491.4,358.3 494.0,351.4 492.3,348.0 494.0,342.9" fill="#fff" stroke="#000" stroke-width="2.0" stroke-linejoin="round"/>
<polygon points="416.0,309.4 418.6,308.6 420.3,311.1 420.3,314.6 417.7,316.3 416.0,313.7" fill="#fff" stroke="#000" stroke-width="2.0" stroke-linejoin="round"/>
<polygon points="411.7,321.4 414.3,320.6 416.0,322.3 414.3,324.3 412.1,323.7" fill="#fff" stroke="#000" stroke-width="2.0" stroke-linejoin="round"/>
<polygon points="410.0,346.3 413.4,344.9 417.7,344.6 419.4,346.3 416.9,348.0 412.6,348.5 410.0,347.7" fill="#fff" stroke="#000" stroke-width="2.0" stroke-linejoin="round"/>
<polygon points="415.1,296.6 416.9,303.4 419.4,306.0 422.9,306.9 426.3,307.7 427.1,305.1 425.4,302.6 422.9,301.7 422.0,297.4 418.6,294.9" fill="#fff" stroke="#000" stroke-width="2.0" stroke-linejoin="round"/>
<polygon points="490.0,410.0 493.4,408.3 496.9,405.7 497.7,400.6 501.1,398.0 506.3,397.1 508.0,393.7 511.4,395.4 515.7,397.1 518.3,401.4 519.1,406.6 515.7,411.7 514.0,412.6 519.1,410.0 524.3,407.4 528.6,405.7 530.3,400.6 532.9,397.1 537.1,396.3 540.6,398.9 542.3,394.6 543.1,389.4 545.7,386.9 549.1,388.6 552.6,391.1 556.0,388.6 559.4,386.9 562.0,383.4 562.9,380.0 562.3,378.9 561.1,374.3 559.4,368.6 560.6,365.7 563.4,366.9 565.7,369.7 569.1,372 572.6,373.7 573.7,376.6 576.6,379.4 579.1,380.0 581.7,385.1 582.6,390.3 580.9,395.4 577.4,397.1 581.7,398.9 584.3,404.0 585.1,410.0 584.3,416.0 586.9,420.3 589.4,424.6 589.4,430.6 586.9,435.7 583.4,440.0 580.9,440.9 579.1,445.1 580.0,452.0 579.1,457.1 577.4,452.0 576.6,445.1 574.9,440.0 572.3,434.9 570.6,429.7 568.0,430.6 565.4,433.1 563.7,438.3 560.3,441.7 558.6,446.9 561.1,450.3 564.6,453.7 566.3,458.9 567.1,465.7 535.4,465.7 531.1,461.4 526.9,458.0 524.3,453.7 523.4,448.6 521.7,444.3 522.6,439.1 525.1,434.0 527.7,429.7 526.0,424.6 522.6,421.1 518.3,419.4 514.0,416.9 509.7,416.9 507.1,421.1 508.0,424.6 507.1,428.0 504.6,426.3 501.1,425.4 499.4,421.1 496.9,422.0 495.1,426.3 493.4,429.7 490.0,429.7 488.75,417.75 482.5,419 478.75,424 476.25,431.5 475,439 471.25,440.25 469.5,435.25 471.25,426.5 473.75,419 477.5,412.75 485,410.25" fill="#fff" stroke="#000" stroke-width="2.0" stroke-linejoin="round"/>
<polygon points="466.25,447.75 471.25,445.25 476.25,446.5 477.5,450.25 473.75,454 468.75,453.5 465.5,451" fill="#fff" stroke="#000" stroke-width="2.0" stroke-linejoin="round"/>
<polygon points="569.1,436.9 568.4,438.6 567.5,439.5 566.8,439.3 566.5,438.0 566.9,436.2 567.6,434.5 568.5,433.7 569.2,433.9 569.5,435.1" fill="#fff" stroke="#000" stroke-width="2.0" stroke-linejoin="round"/>
<polygon points="583.1,442.6 582.8,443.8 582.1,444.5 581.3,444.5 580.6,443.8 580.3,442.6 580.6,441.4 581.3,440.6 582.1,440.6 582.8,441.4" fill="#fff" stroke="#000" stroke-width="2.0" stroke-linejoin="round"/>
<polygon points="345.9,400.5 349.4,394.2 354.7,387.9 360.9,382.7 366.2,379.5 371.4,375.3 376.6,370.1 381.9,364.9 385.0,359.7 389.2,355.5 392.3,350.2 395.5,348.1 398.6,342.9 400.7,338.7 399.7,334.5 402.8,331.4 403.8,326.2 405.9,323.0 407.4,326.2 406.6,331.4 407.0,335.6 408.0,340.8 410.1,345.0 414.3,344.0 418.5,345.0 418.5,347.1 414.3,348.6 410.1,348.1 407.0,350.2 402.8,352.3 399.7,355.5 396.5,358.6 392.3,359.7 388.1,361.7 387.1,365.9 385.0,370.1 382.9,374.3 378.7,378.5 374.5,381.6 370.3,384.8 367.2,389.0 362.0,392.1 356.7,395.2 352.6,398.4 349.4,401.5 346.3,403.0" fill="#fff" stroke="#000" stroke-width="2.0" stroke-linejoin="round"/>
<polygon points="349.6,405.7 349.3,406.6 348.4,407.0 347.5,406.6 347.1,405.7 347.5,404.8 348.4,404.4 349.3,404.8" fill="#fff" stroke="#000" stroke-width="2.0" stroke-linejoin="round"/>
<polygon points="411.2,322.0 414.3,320.5 416.4,322.0 414.3,324.1 411.6,323.7" fill="#fff" stroke="#000" stroke-width="2.0" stroke-linejoin="round"/>
<polygon points="416.4,309.4 418.5,308.4 421.6,310.5 420.6,315.7 417.4,316.7 415.8,313.6" fill="#fff" stroke="#000" stroke-width="2.0" stroke-linejoin="round"/>
<polygon points="417.4,301.0 420.6,303.1 423.7,305.2 426.9,304.2 429.0,306.3 425.8,308.4 422.7,308.0 419.5,306.3" fill="#fff" stroke="#000" stroke-width="2.0" stroke-linejoin="round"/>
<polygon points="317.4,465.0 319.1,459.9 322.0,456.4 325.4,453.6 328.9,450.7 331.7,447.3 332.9,442.7 334.0,439.3 335.7,438.1 337.1,439.9 336.6,443.9 335.7,447.9 336.9,449.6 338.6,448.4 340.3,444.4 342.0,441.6 342.6,438.7 344.9,438.1 347.1,439.3 348.3,442.7 348.9,446.1 350.6,448.4 353.4,449.6 356.9,450.1 359.1,451.9 360.3,455.3 358.6,458.7 357.4,462.1 358.6,469.0 317.4,469.0" fill="#fff" stroke="#000" stroke-width="2.0" stroke-linejoin="round"/>
<polygon points="342.8,414.1 342.6,415.8 342.0,416.9 341.3,416.9 340.7,415.8 340.5,414.1 340.7,412.5 341.3,411.4 342.0,411.4 342.6,412.5" fill="#fff" stroke="#000" stroke-width="2.0" stroke-linejoin="round"/>
<polygon points="338.0,432.4 340.3,429.6 342.0,430.7 339.7,432.4" fill="#fff" stroke="#000" stroke-width="2.0" stroke-linejoin="round"/>
<polygon points="343.7,430.1 348.3,429.2 348.9,432.4 345.4,434.5 343.1,434.9 342.8,432.4" fill="#fff" stroke="#000" stroke-width="2.0" stroke-linejoin="round"/>
<polygon points="458.9,117.5 457.6,118.3 455.8,118.0 454.5,116.7 454.6,115.0 455.9,114.2 457.7,114.5 459.0,115.8" fill="#fff" stroke="#000" stroke-width="2.0" stroke-linejoin="round"/>
<polygon points="469.8,128.3 468.5,129.7 467.1,129.7 466.3,128.4 466.7,126.7 468.0,125.3 469.4,125.3 470.2,126.5" fill="#fff" stroke="#000" stroke-width="2.0" stroke-linejoin="round"/>
<polygon points="433,40 436,47.5 438,49.5 440,47.5 442,40" fill="#fff" stroke="#000" stroke-width="2.0" stroke-linejoin="round"/>
<polyline points="70.0,371.5 65.0,370.0 60.0,365.0 54.5,361.0 51.2,362.0 56.2,367.5 61.2,375.0" fill="none" stroke="#000" stroke-width="1.5" stroke-linejoin="round"/>
<polyline points="76.2,358.2 70.5,355.8 66.5,353.2 69.0,350.8 74.0,349.5 78.5,344.0 83.0,346.0 87.0,349.5" fill="none" stroke="#000" stroke-width="1.5" stroke-linejoin="round"/>
<polyline points="72.5,364.5 67.5,361.5 63.8,358.2" fill="none" stroke="#000" stroke-width="1.5" stroke-linejoin="round"/>
<polyline points="78.75,47.5 85,51 91,56 100,57 105,59.5" fill="none" stroke="#000" stroke-width="1.5" stroke-linejoin="round"/>
<polyline points="168.6,61.5 169.3,65 167,68.5 164.5,70.5 165,74 167.5,77 170,80" fill="none" stroke="#000" stroke-width="3.2" stroke-linejoin="round" stroke-linecap="round"/>
<polyline points="145.5,56.5 148,55.8 150.5,58 153,60" fill="none" stroke="#000" stroke-width="3.0" stroke-linejoin="round" stroke-linecap="round"/>
<polyline points="155.5,86.5 157.5,90.5 160,91.5" fill="none" stroke="#000" stroke-width="3.0" stroke-linejoin="round" stroke-linecap="round"/>
<polyline points="204,55.5 208,53.5 212,52.5 216,54.5" fill="none" stroke="#000" stroke-width="3.6" stroke-linejoin="round" stroke-linecap="round"/>
<polyline points="225,53 229,55.5 233,55 236,53" fill="none" stroke="#000" stroke-width="3.4" stroke-linejoin="round" stroke-linecap="round"/>
<polyline points="239,51.5 244,50 249,49 254,48.5" fill="none" stroke="#000" stroke-width="2.6" stroke-linejoin="round" stroke-linecap="round"/>
<rect x="672.4" y="47" width="6" height="418" fill="#00007f"/>
<circle cx="272.5" cy="323.25" r="1.6" fill="#000"/>
<circle cx="270" cy="333.25" r="1.8" fill="#000"/>
<circle cx="266.25" cy="336.5" r="1.4" fill="#000"/>
<circle cx="275" cy="340.75" r="1.6" fill="#000"/>
<circle cx="287.5" cy="332" r="1.3" fill="#000"/>
<circle cx="286.25" cy="337" r="1.3" fill="#000"/>
<circle cx="275" cy="350.75" r="1.6" fill="#000"/>
<circle cx="260" cy="359.5" r="1.5" fill="#000"/>
<circle cx="236.25" cy="369.5" r="1.8" fill="#000"/>
<circle cx="218.75" cy="389.5" r="1.6" fill="#000"/>
<circle cx="226.25" cy="390.25" r="1.6" fill="#000"/>
<circle cx="232.5" cy="388.25" r="1.4" fill="#000"/>
<circle cx="208.75" cy="395.75" r="1.4" fill="#000"/>
<circle cx="202.5" cy="395.75" r="1.4" fill="#000"/>
<circle cx="255" cy="386.5" r="1.5" fill="#000"/>
<circle cx="262.5" cy="390" r="1.8" fill="#000"/>
<circle cx="268.75" cy="393.25" r="1.6" fill="#000"/>
<circle cx="280" cy="389.5" r="1.4" fill="#000"/>
<circle cx="245" cy="407" r="1.8" fill="#000"/>
<circle cx="261.25" cy="412" r="1.5" fill="#000"/>
<circle cx="277.5" cy="409" r="1.6" fill="#000"/>
<circle cx="282.5" cy="408.25" r="1.4" fill="#000"/>
<circle cx="295" cy="402.75" r="1.5" fill="#000"/>
<circle cx="257.5" cy="422" r="1.5" fill="#000"/>
<circle cx="262.5" cy="422.75" r="1.3" fill="#000"/>
<circle cx="203.75" cy="415" r="1.6" fill="#000"/>
<circle cx="203" cy="420.75" r="1.6" fill="#000"/>
<circle cx="308.75" cy="347" r="1.8" fill="#000"/>
<circle cx="310" cy="339" r="1.4" fill="#000"/>
<circle cx="320" cy="343.25" r="1.5" fill="#000"/>
<circle cx="328.75" cy="351.5" r="1.8" fill="#000"/>
<circle cx="336.25" cy="338.25" r="1.6" fill="#000"/>
<circle cx="338.25" cy="331.5" r="1.6" fill="#000"/>
<circle cx="348.75" cy="342" r="1.8" fill="#000"/>
<circle cx="361.25" cy="339.5" r="1.5" fill="#000"/>
<circle cx="350" cy="357" r="1.6" fill="#000"/>
<circle cx="297.5" cy="354.5" r="1.5" fill="#000"/>
<circle cx="303" cy="363.25" r="1.7" fill="#000"/>
<circle cx="311.75" cy="367.5" r="1.8" fill="#000"/>
<circle cx="317.5" cy="357" r="1.3" fill="#000"/>
<circle cx="328.75" cy="366.5" r="1.6" fill="#000"/>
<circle cx="300" cy="376.25" r="1.5" fill="#000"/>
<circle cx="313.75" cy="377.75" r="1.5" fill="#000"/>
<circle cx="327.5" cy="382" r="1.3" fill="#000"/>
<circle cx="338.75" cy="374.5" r="1.4" fill="#000"/>
<circle cx="322.5" cy="388.75" r="1.4" fill="#000"/>
<circle cx="333.75" cy="384.5" r="1.2" fill="#000"/>
<circle cx="163.75" cy="404" r="1.7" fill="#000"/>
<circle cx="159.5" cy="415" r="1.8" fill="#000"/>
<circle cx="174.25" cy="410" r="2.0" fill="#000"/>
<circle cx="172" cy="417.75" r="1.8" fill="#000"/>
<circle cx="152.5" cy="425" r="1.8" fill="#000"/>
<circle cx="156" cy="424.5" r="1.6" fill="#000"/>
<circle cx="202.5" cy="189.75" r="2.4" fill="#000"/>
<circle cx="203.75" cy="197.25" r="2.6" fill="#000"/>
<circle cx="211.25" cy="194.75" r="1.8" fill="#000"/>
<circle cx="218.75" cy="178.5" r="1.8" fill="#000"/>
<circle cx="218" cy="182.25" r="1.6" fill="#000"/>
<circle cx="225" cy="202.25" r="2.0" fill="#000"/>
<circle cx="206.25" cy="202.25" r="1.6" fill="#000"/>
<circle cx="230" cy="186" r="1.2" fill="#000"/>
<circle cx="360.75" cy="224.75" r="2.2" fill="#000"/>
<circle cx="336" cy="80.75" r="2.6" fill="#000"/>
<circle cx="433.75" cy="456.5" r="1.8" fill="#000"/>
<path d="M270,364.5 L280,360.5" stroke="#000" stroke-width="3.2" stroke-linecap="round"/>
<path d="M244,409.5 L246,404.5" stroke="#000" stroke-width="2.4" stroke-linecap="round"/>
<path d="M234.5,371 L238,368" stroke="#000" stroke-width="2.4" stroke-linecap="round"/>
<circle cx="256.25" cy="213.5" r="1.25" fill="#000"/>
<circle cx="258" cy="211" r="1.25" fill="#000"/>
<circle cx="260" cy="208.5" r="1.25" fill="#000"/>
<circle cx="262.5" cy="206" r="1.25" fill="#000"/>
<circle cx="265" cy="203.5" r="1.25" fill="#000"/>
<circle cx="268.5" cy="202" r="1.25" fill="#000"/>
<circle cx="272.5" cy="201" r="1.25" fill="#000"/>
<circle cx="276" cy="199.5" r="1.25" fill="#000"/>
<circle cx="280" cy="198.5" r="1.25" fill="#000"/>
<circle cx="283" cy="198" r="1.25" fill="#000"/>
<circle cx="285.5" cy="198.5" r="1.25" fill="#000"/>
<circle cx="287" cy="202.25" r="1.25" fill="#000"/>
<circle cx="285.5" cy="205" r="1.25" fill="#000"/>
<circle cx="283.75" cy="207.25" r="1.25" fill="#000"/>
<circle cx="281" cy="210" r="1.25" fill="#000"/>
<circle cx="278.75" cy="212.25" r="1.25" fill="#000"/>
<circle cx="275.5" cy="214" r="1.25" fill="#000"/>
<circle cx="272.5" cy="215.5" r="1.25" fill="#000"/>
<circle cx="269" cy="217" r="1.25" fill="#000"/>
<circle cx="266.25" cy="218" r="1.25" fill="#000"/>
<circle cx="263.5" cy="218.5" r="1.25" fill="#000"/>
<circle cx="261.25" cy="218.5" r="1.25" fill="#000"/>
<circle cx="259" cy="217.5" r="1.25" fill="#000"/>
<circle cx="257" cy="216" r="1.25" fill="#000"/>
<polygon points="317.5,319.5 325,317 332.5,314.5 336.25,310.75 343.75,310.75 348.75,315.75 347.5,320.75 342.5,325.75 338.75,332 333.75,337 330,334.5 325,337 322.5,332 318.75,327" fill="none" stroke="#667" stroke-width="0.8"/>
<polygon points="262.5,422 268.75,417 275,413.25 277.5,417 273.75,420.75 266.25,424.5 261.25,424.5" fill="none" stroke="#667" stroke-width="0.8"/>
<polyline points="157,58.9 156,55.4 158.3,52 162.9,49.7 167.4,49.1 169.7,48.6" fill="none" stroke="#888" stroke-width="0.7"/>
</g>
<rect x="30.1" y="46.5" width="648.3" height="418.5" fill="none" stroke="#000" stroke-width="2"/>
<line x1="27" x2="30" y1="465.0" y2="465.0" stroke="#000" stroke-width="1"/>
<text x="27" y="468.8" font-size="10.6" text-anchor="end" fill="#222">6°N</text>
<line x1="27" x2="30" y1="412.7" y2="412.7" stroke="#000" stroke-width="1"/>
<text x="27" y="416.5" font-size="10.6" text-anchor="end" fill="#222">8°N</text>
<line x1="27" x2="30" y1="360.4" y2="360.4" stroke="#000" stroke-width="1"/>
<text x="27" y="364.2" font-size="10.6" text-anchor="end" fill="#222">10°N</text>
<line x1="27" x2="30" y1="308.1" y2="308.1" stroke="#000" stroke-width="1"/>
<text x="27" y="311.9" font-size="10.6" text-anchor="end" fill="#222">12°N</text>
<line x1="27" x2="30" y1="255.8" y2="255.8" stroke="#000" stroke-width="1"/>
<text x="27" y="259.6" font-size="10.6" text-anchor="end" fill="#222">14°N</text>
<line x1="27" x2="30" y1="203.4" y2="203.4" stroke="#000" stroke-width="1"/>
<text x="27" y="207.2" font-size="10.6" text-anchor="end" fill="#222">16°N</text>
<line x1="27" x2="30" y1="151.1" y2="151.1" stroke="#000" stroke-width="1"/>
<text x="27" y="154.9" font-size="10.6" text-anchor="end" fill="#222">18°N</text>
<line x1="27" x2="30" y1="98.8" y2="98.8" stroke="#000" stroke-width="1"/>
<text x="27" y="102.6" font-size="10.6" text-anchor="end" fill="#222">20°N</text>
<line x1="27" x2="30" y1="46.5" y2="46.5" stroke="#000" stroke-width="1"/>
<text x="27" y="50.3" font-size="10.6" text-anchor="end" fill="#222">22°N</text>
<line y1="465" y2="468" x1="30.1" x2="30.1" stroke="#000" stroke-width="1"/>
<text x="29.9" y="478.8" font-size="10.4" text-anchor="middle" fill="#222">105°E</text>
<line y1="465" y2="468" x1="159.8" x2="159.8" stroke="#000" stroke-width="1"/>
<text x="159.6" y="478.8" font-size="10.4" text-anchor="middle" fill="#222">110°E</text>
<line y1="465" y2="468" x1="289.4" x2="289.4" stroke="#000" stroke-width="1"/>
<text x="289.2" y="478.8" font-size="10.4" text-anchor="middle" fill="#222">115°E</text>
<line y1="465" y2="468" x1="419.1" x2="419.1" stroke="#000" stroke-width="1"/>
<text x="418.9" y="478.8" font-size="10.4" text-anchor="middle" fill="#222">120°E</text>
<line y1="465" y2="468" x1="548.7" x2="548.7" stroke="#000" stroke-width="1"/>
<text x="548.5" y="478.8" font-size="10.4" text-anchor="middle" fill="#222">125°E</text>
<line y1="465" y2="468" x1="678.4" x2="678.4" stroke="#000" stroke-width="1"/>
<text x="678.2" y="478.8" font-size="10.4" text-anchor="middle" fill="#222">130°E</text>
<text x="33" y="16.4" font-size="16.9" textLength="44.0" lengthAdjust="spacingAndGlyphs" fill="#3e3e3e" stroke="#fff" stroke-width="0.55">Wave</text>
<text x="91" y="16.4" font-size="16.9" textLength="88.0" lengthAdjust="spacingAndGlyphs" fill="#3e3e3e" stroke="#fff" stroke-width="0.55">Height(m)</text>
<text x="33" y="37.9" font-size="16.9" textLength="77.0" lengthAdjust="spacingAndGlyphs" fill="#3e3e3e" stroke="#fff" stroke-width="0.55">GFSwave</text>
<text x="123" y="37.9" font-size="16.9" textLength="34.0" lengthAdjust="spacingAndGlyphs" fill="#3e3e3e" stroke="#fff" stroke-width="0.55">252</text>
<text x="170" y="37.9" font-size="16.9" textLength="40.0" lengthAdjust="spacingAndGlyphs" fill="#3e3e3e" stroke="#fff" stroke-width="0.55">Hour</text>
<text x="223" y="37.9" font-size="16.9" textLength="74.0" lengthAdjust="spacingAndGlyphs" fill="#3e3e3e" stroke="#fff" stroke-width="0.55">Forecast</text>
<text x="405.7" y="37.9" font-size="16.6" textLength="34.3" lengthAdjust="spacingAndGlyphs" fill="#3e3e3e" stroke="#fff" stroke-width="0.55">Wed</text>
<text x="454" y="37.9" font-size="16.6" textLength="22.4" lengthAdjust="spacingAndGlyphs" fill="#3e3e3e" stroke="#fff" stroke-width="0.55">24</text>
<text x="488.4" y="37.9" font-size="16.6" textLength="31.6" lengthAdjust="spacingAndGlyphs" fill="#3e3e3e" stroke="#fff" stroke-width="0.55">Dec</text>
<text x="533" y="37.9" font-size="16.6" textLength="42.0" lengthAdjust="spacingAndGlyphs" fill="#3e3e3e" stroke="#fff" stroke-width="0.55">2025</text>
<text x="626.5" y="37.9" font-size="16.6" textLength="21.5" lengthAdjust="spacingAndGlyphs" fill="#3e3e3e" stroke="#fff" stroke-width="0.55">00</text>
<text x="660" y="37.9" font-size="16.6" textLength="30.8" lengthAdjust="spacingAndGlyphs" fill="#3e3e3e" stroke="#fff" stroke-width="0.55">UTC</text>
<rect x="112.3" y="494" width="53.7" height="11.6" fill="#e1ebf6" stroke="#333" stroke-width="0.8"/>
<rect x="166.0" y="494" width="53.7" height="11.6" fill="#a5c3e4" stroke="#333" stroke-width="0.8"/>
<rect x="219.7" y="494" width="53.7" height="11.6" fill="#6b99d0" stroke="#333" stroke-width="0.8"/>
<rect x="273.5" y="494" width="53.7" height="11.6" fill="#33cc99" stroke="#333" stroke-width="0.8"/>
<rect x="327.2" y="494" width="53.7" height="11.6" fill="#7af374" stroke="#333" stroke-width="0.8"/>
<rect x="380.9" y="494" width="53.7" height="11.6" fill="#ffe82a" stroke="#333" stroke-width="0.8"/>
<rect x="434.6" y="494" width="53.7" height="11.6" fill="#ffa00a" stroke="#333" stroke-width="0.8"/>
<rect x="488.4" y="494" width="53.7" height="11.6" fill="#fa3c3c" stroke="#333" stroke-width="0.8"/>
<rect x="542.1" y="494" width="53.7" height="11.6" fill="#c80000" stroke="#333" stroke-width="0.8"/>
<polygon points="112.3,494 59.2,499.8 112.3,505.6" fill="#fff" stroke="#555" stroke-width="0.8"/>
<polygon points="595.8,494 648.6,499.8 595.8,505.6" fill="#d800d8" stroke="#555" stroke-width="0.6"/>
<text x="112.3" y="520.3" font-size="13.5" text-anchor="middle" fill="#111">.5</text>
<text x="166.0" y="520.3" font-size="13.5" text-anchor="middle" fill="#111">1</text>
<text x="219.7" y="520.3" font-size="13.5" text-anchor="middle" fill="#111">2</text>
<text x="273.5" y="520.3" font-size="13.5" text-anchor="middle" fill="#111">3</text>
<text x="327.2" y="520.3" font-size="13.5" text-anchor="middle" fill="#111">4</text>
<text x="380.9" y="520.3" font-size="13.5" text-anchor="middle" fill="#111">5</text>
<text x="434.6" y="520.3" font-size="13.5" text-anchor="middle" fill="#111">6</text>
<text x="488.4" y="520.3" font-size="13.5" text-anchor="middle" fill="#111">8</text>
<text x="542.1" y="520.3" font-size="13.5" text-anchor="middle" fill="#111">10</text>
<text x="595.8" y="520.3" font-size="13.5" text-anchor="middle" fill="#111">12</text>
</svg></body></html>
